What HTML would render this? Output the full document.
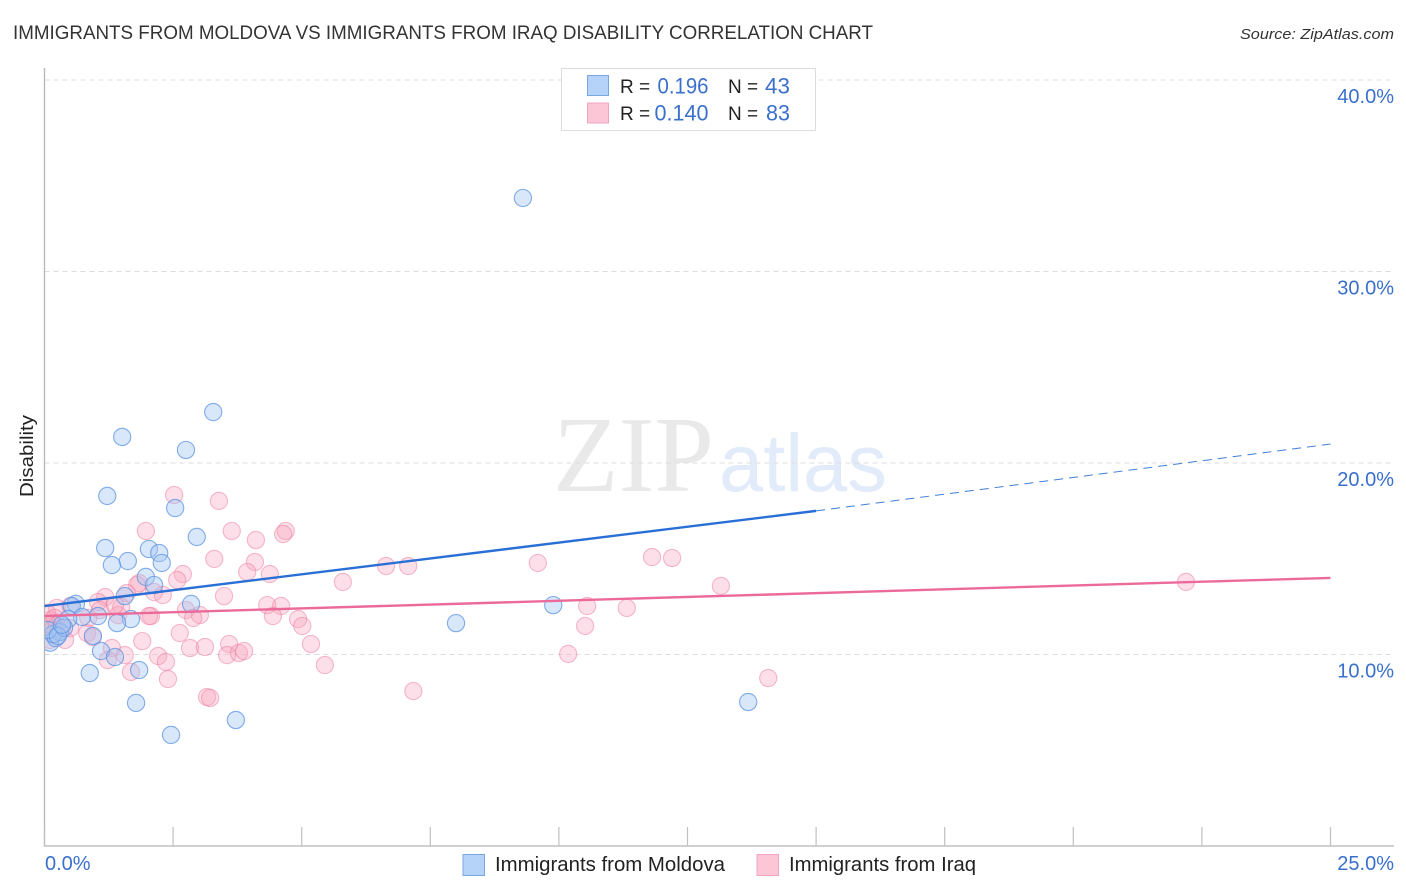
<!DOCTYPE html>
<html lang="en">
<head>
<meta charset="utf-8">
<title>Immigrants from Moldova vs Immigrants from Iraq Disability Correlation Chart</title>
<style>
html,body{margin:0;padding:0;background:#fff;width:1406px;height:892px;overflow:hidden}
svg{display:block;position:absolute;left:0;top:0}
text{font-family:"Liberation Sans",sans-serif}
</style>
</head>
<body>
<svg id="chart" width="1406" height="892" viewBox="0 0 1406 892" xmlns="http://www.w3.org/2000/svg">
  <defs>
    <clipPath id="plot-clip"><rect x="45" y="60" width="1349" height="786"/></clipPath>
  </defs>
  <g>
    <text x="553" y="491" textLength="161" lengthAdjust="spacingAndGlyphs" style="font-family:'Liberation Serif',serif;font-size:108px;fill:#e9e9e9">ZIP</text>
    <text x="719" y="491" textLength="168" lengthAdjust="spacingAndGlyphs" style="font-size:82px;fill:#e2ebf9">atlas</text>
  </g>
  <g id="grid"></g>
  <g id="axes"></g>
  <g id="ylabels"></g>
  <g id="xlabels"></g>
  <g id="pink-points" clip-path="url(#plot-clip)"></g>
  <g id="blue-points" clip-path="url(#plot-clip)"></g>
  <g id="lines"></g>

  <text x="13" y="39" textLength="860" lengthAdjust="spacingAndGlyphs" style="font-size:19px;fill:#333">IMMIGRANTS FROM MOLDOVA VS IMMIGRANTS FROM IRAQ DISABILITY CORRELATION CHART</text>
  <text x="1394" y="39" text-anchor="end" textLength="154" lengthAdjust="spacingAndGlyphs" style="font-size:15px;font-style:italic;fill:#333">Source: ZipAtlas.com</text>
  <text transform="translate(33,456) rotate(-90)" text-anchor="middle" textLength="82" lengthAdjust="spacingAndGlyphs" style="font-size:18px;fill:#222">Disability</text>

  <g>
    <rect x="561.5" y="68.5" width="254" height="62" fill="#fff" stroke="#dcdcdc" stroke-width="1"/>
    <rect x="587.5" y="75.5" width="21" height="20" fill="#b5d3f8" stroke="#7aa6e0" stroke-width="1"/>
    <rect x="587.5" y="103" width="21" height="20" fill="#fdc6d7" stroke="#f2a6be" stroke-width="1"/>
    <text x="620" y="93" style="font-size:19px;fill:#222">R =</text>
    <text x="657.5" y="93.5" textLength="51" lengthAdjust="spacingAndGlyphs" style="font-size:22px;fill:#3a70cc">0.196</text>
    <text x="728" y="93" style="font-size:19px;fill:#222">N =</text>
    <text x="765" y="93.5" textLength="25" lengthAdjust="spacingAndGlyphs" style="font-size:22px;fill:#3a70cc">43</text>
    <text x="620" y="120" style="font-size:19px;fill:#222">R =</text>
    <text x="654.5" y="120.5" textLength="54" lengthAdjust="spacingAndGlyphs" style="font-size:22px;fill:#3a70cc">0.140</text>
    <text x="728" y="120" style="font-size:19px;fill:#222">N =</text>
    <text x="766" y="120.5" textLength="24" lengthAdjust="spacingAndGlyphs" style="font-size:22px;fill:#3a70cc">83</text>
  </g>

  <g>
    <rect x="463" y="854.5" width="21.5" height="21" fill="#b5d3f8" stroke="#7aa6e0" stroke-width="1"/>
    <text x="495" y="871" textLength="230" lengthAdjust="spacingAndGlyphs" style="font-size:20px;fill:#222">Immigrants from Moldova</text>
    <rect x="757" y="854.5" width="21.5" height="21" fill="#fdc6d7" stroke="#f2a6be" stroke-width="1"/>
    <text x="789" y="871" textLength="187" lengthAdjust="spacingAndGlyphs" style="font-size:20px;fill:#222">Immigrants from Iraq</text>
  </g>
</svg>
<script>
const yTicks = [10, 20, 30, 40];
const yTickLabels = ["10.0%", "20.0%", "30.0%", "40.0%"];
const xTicks = [0, 2.5, 5, 7.5, 10, 12.5, 15, 17.5, 20, 22.5, 25];
const xEndLabels = ["0.0%", "25.0%"];

const moldovaX = [9.30,3.28,1.51,2.75,1.22,2.54,2.96,1.18,2.03,2.23,2.28,1.62,1.31,1.97,2.13,1.56,2.85,9.89,0.61,0.53,8.00,1.68,1.41,1.04,0.73,0.46,0.94,1.10,1.37,1.84,0.88,1.78,13.68,3.72,2.46,0.11,0.22,0.30,0.17,0.07,0.38,0.26,0.34];
const moldovaY = [33.84,22.66,21.36,20.68,18.28,17.65,16.14,15.56,15.51,15.30,14.78,14.88,14.67,14.05,13.63,13.05,12.64,12.58,12.64,12.53,11.64,11.85,11.64,12.01,11.96,11.85,10.97,10.18,9.87,9.19,9.03,7.47,7.52,6.58,5.80,10.62,10.86,11.18,11.07,11.28,11.40,10.97,11.55];

const iraqX = [2.52,3.39,1.97,3.64,4.11,4.69,4.64,3.30,4.09,3.94,4.38,2.69,2.58,5.80,1.84,1.80,1.60,2.13,2.30,3.49,1.18,1.04,4.33,4.60,0.50,0.24,1.08,1.49,2.75,3.02,2.89,4.44,4.93,5.01,2.07,2.03,1.43,2.63,1.90,5.18,2.83,3.12,3.59,3.55,3.78,3.88,1.31,1.56,1.23,2.21,2.36,1.68,2.40,5.45,3.16,3.22,0.83,0.94,0.40,6.64,7.07,9.59,11.81,12.20,13.15,22.19,10.55,11.32,10.51,10.18,14.07,7.17,0.11,0.05,0.15,0.24,0.34,0.50,0.11,0.85,1.37,0.05,0.20];
const iraqY = [18.33,18.02,16.45,16.45,15.98,16.45,16.29,14.99,14.83,14.31,14.20,14.20,13.89,13.79,13.73,13.63,13.21,13.26,13.11,13.05,13.00,12.74,12.58,12.53,12.53,12.43,12.32,12.48,12.32,12.06,11.91,12.01,11.85,11.49,12.01,12.01,12.06,11.12,10.70,10.55,10.34,10.39,10.55,9.97,10.08,10.18,10.34,9.97,9.71,9.92,9.61,9.09,8.72,9.45,7.78,7.73,11.12,10.91,10.76,14.62,14.62,14.78,15.09,15.04,13.58,13.79,12.53,12.43,11.49,10.03,8.77,8.09,11.80,12.17,11.28,11.54,11.38,11.38,10.76,11.91,12.58,11.59,11.91];

const moldovaTrendX = [0, 15];
const moldovaTrendY = [12.53, 17.50];
const moldovaForecastX = [15, 25];
const moldovaForecastY = [17.50, 20.99];
const iraqTrendX = [0, 25];
const iraqTrendY = [12.01, 14.00];

const NS = "http://www.w3.org/2000/svg";
function sx(v) { return 44.5 + v * 51.44; }
function sy(v) { return 846 - v * 19.15; }
function make(parent, tag, attrs) {
  const el = document.createElementNS(NS, tag);
  for (const k in attrs) el.setAttribute(k, attrs[k]);
  parent.appendChild(el);
  return el;
}

const grid = document.getElementById("grid");
const axes = document.getElementById("axes");
const ylabels = document.getElementById("ylabels");
const xlabels = document.getElementById("xlabels");

yTicks.forEach(function (t, i) {
  const g = make(grid, "line", { x1: 44.5, x2: 1394, y1: sy(t), y2: sy(t), stroke: "#dddddd", "stroke-width": 1, "stroke-dasharray": "5 4" });
  
  
  const lab = make(ylabels, "text", { x: 1394, y: sy(t) + 23, "text-anchor": "end", style: "font-size:20px;fill:#3a70cc" });
  
  
  lab.textContent = yTickLabels[i];
});

const yAxis = make(axes, "line", { x1: 44.5, x2: 44.5, y1: 68, y2: 846.5, stroke: "#b5b5b5", "stroke-width": 1.3 });


const xAxis = make(axes, "line", { x1: 44, x2: 1394, y1: 846, y2: 846, stroke: "#b5b5b5", "stroke-width": 1.3 });



xTicks.forEach(function (t) {
  const tick = make(axes, "line", { x1: sx(t), x2: sx(t), y1: 827, y2: 846, stroke: "#c0c0c0", "stroke-width": 1.2 });
  
  
});

const xStart = make(xlabels, "text", { x: 45, y: 870, style: "font-size:20px;fill:#3a70cc" });


xStart.textContent = xEndLabels[0];
const xEnd = make(xlabels, "text", { x: 1394, y: 870, "text-anchor": "end", style: "font-size:20px;fill:#3a70cc" });


xEnd.textContent = xEndLabels[1];

const pinkGroup = document.getElementById("pink-points");
iraqX.forEach(function (x, i) {
  const c = make(pinkGroup, "circle", { cx: sx(x), cy: sy(iraqY[i]), r: 8.6, fill: "#f8a5bf", "fill-opacity": 0.36, stroke: "#ee7a9e", "stroke-opacity": 0.5, "stroke-width": 1.1 });
  
  
});

const blueGroup = document.getElementById("blue-points");
moldovaX.forEach(function (x, i) {
  const c = make(blueGroup, "circle", { cx: sx(x), cy: sy(moldovaY[i]), r: 8.6, fill: "#a3c6f2", "fill-opacity": 0.42, stroke: "#5b93e0", "stroke-opacity": 0.75, "stroke-width": 1.1 });
  
  
});

const lines = document.getElementById("lines");
const blueTrend = make(lines, "line", { x1: sx(moldovaTrendX[0]), y1: sy(moldovaTrendY[0]), x2: sx(moldovaTrendX[1]), y2: sy(moldovaTrendY[1]), stroke: "#2a6fd6", "stroke-width": 2.4 });


const blueForecast = make(lines, "line", { x1: sx(moldovaForecastX[0]), y1: sy(moldovaForecastY[0]), x2: sx(moldovaForecastX[1]), y2: sy(moldovaForecastY[1]), stroke: "#3f7fd6", "stroke-width": 1, "stroke-dasharray": "9 6" });


const pinkTrend = make(lines, "line", { x1: sx(iraqTrendX[0]), y1: sy(iraqTrendY[0]), x2: sx(iraqTrendX[1]), y2: sy(iraqTrendY[1]), stroke: "#ec6a9a", "stroke-width": 2.4 });


</script>
</body>
</html>
